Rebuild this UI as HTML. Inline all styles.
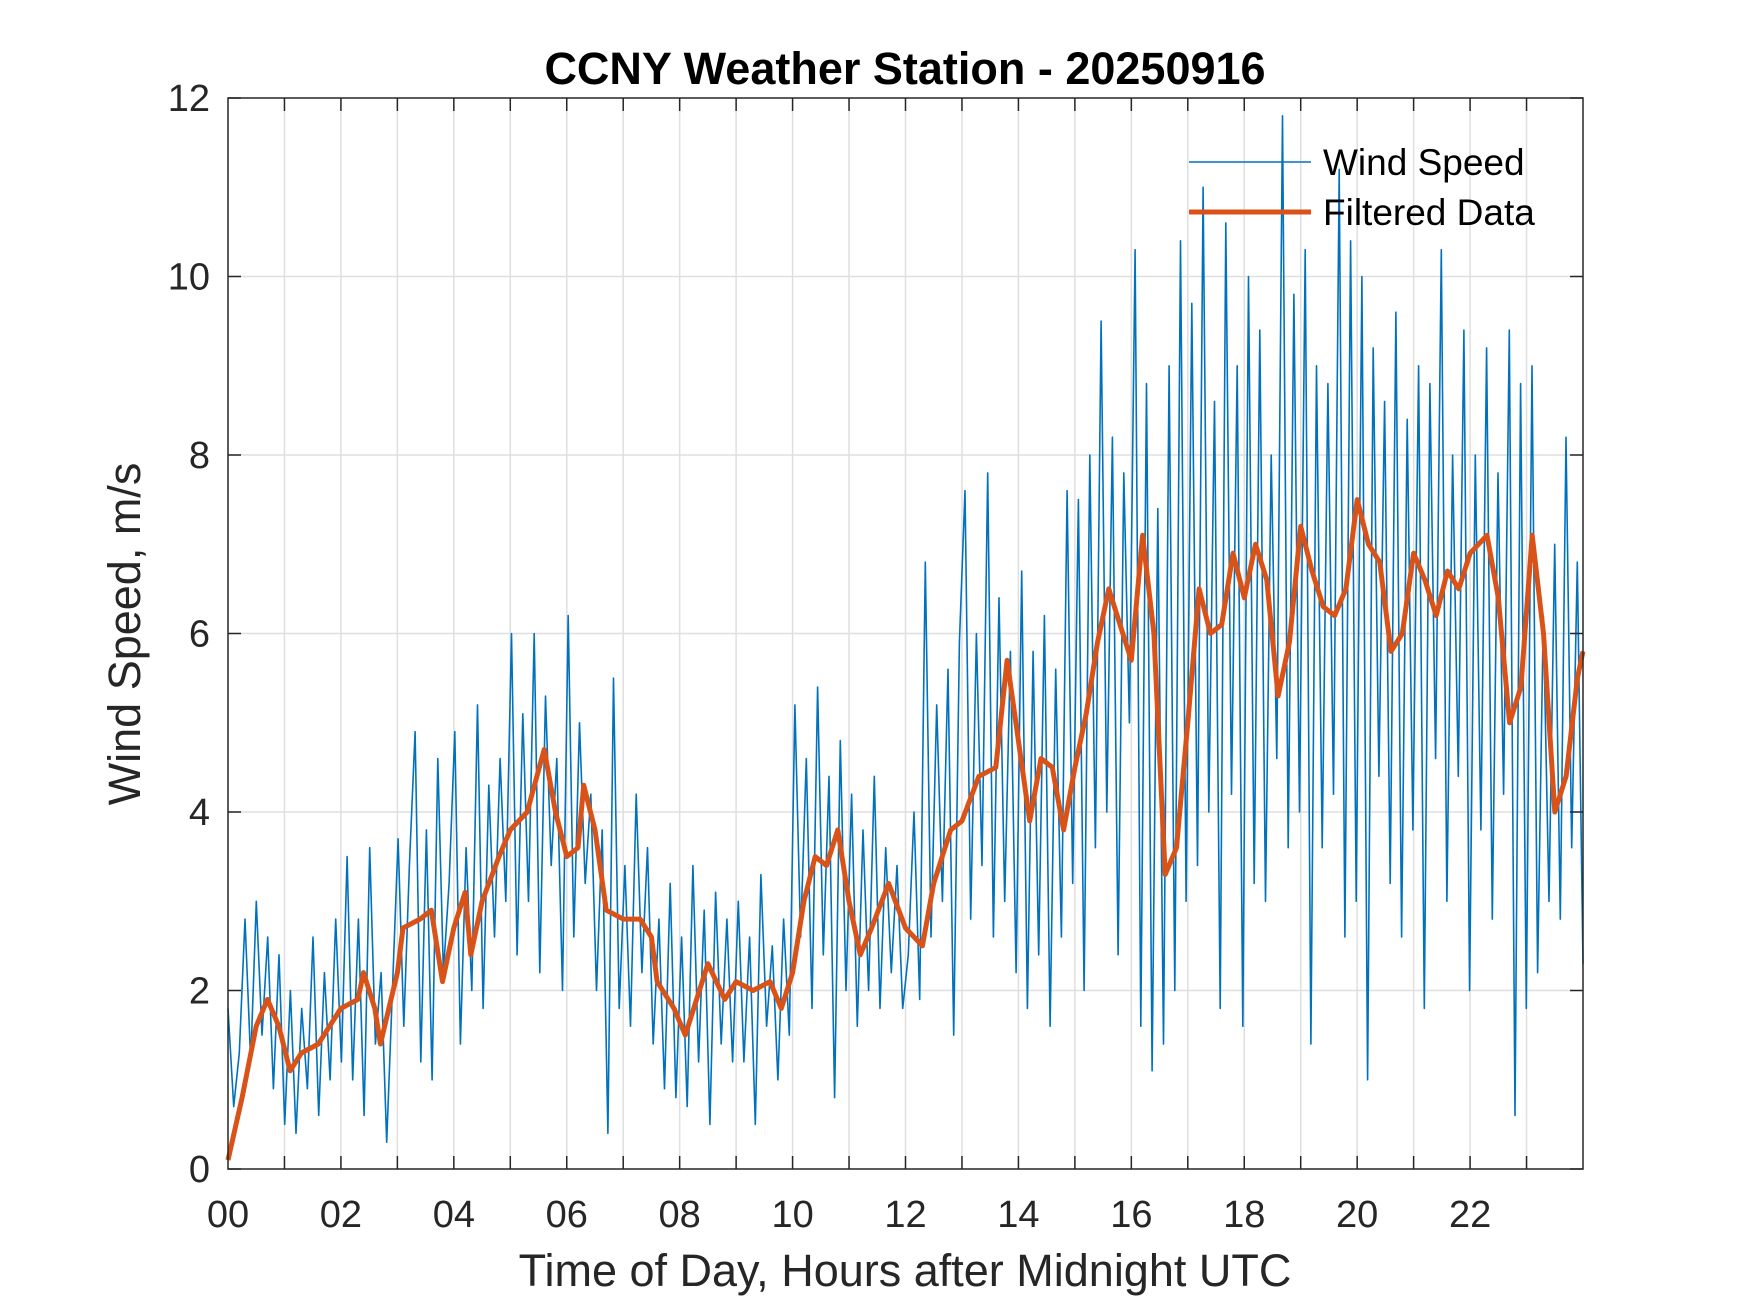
<!DOCTYPE html>
<html><head><meta charset="utf-8"><style>
html,body{margin:0;padding:0;background:#fff;}
svg{display:block;font-family:"Liberation Sans",Arial,sans-serif;}
</style></head><body>
<svg id="chart" width="1750" height="1313" viewBox="0 0 1750 1313" xmlns="http://www.w3.org/2000/svg">
<rect width="1750" height="1313" fill="#fff"/>
<g id="grid"></g>
<g id="series"></g>
<rect x="228" y="98" width="1355" height="1071" fill="none" stroke="#262626" stroke-width="1.5"/>
<g id="ticks"></g>
<text x="905" y="84" text-anchor="middle" font-size="45" font-weight="bold" fill="#000">CCNY Weather Station - 20250916</text>
<text x="905" y="1286" text-anchor="middle" font-size="45" fill="#262626">Time of Day, Hours after Midnight UTC</text>
<text transform="translate(140,634) rotate(-90)" text-anchor="middle" font-size="45" fill="#262626">Wind Speed, m/s</text>
<g>
<line x1="1189" y1="162" x2="1311" y2="162" stroke="#0072BD" stroke-width="1.5"/>
<text x="1323" y="175" font-size="37" fill="#000">Wind Speed</text>
<line x1="1189" y1="212" x2="1311" y2="212" stroke="#D95319" stroke-width="5"/>
<text x="1323" y="225" font-size="37" fill="#000">Filtered Data</text>
</g>
</svg>
<script>
const rawValues = [
1.8,0.7,1.3,2.8,1.2,3.0,1.5,2.6,0.9,2.4,
0.5,2.0,0.4,1.8,0.9,2.6,0.6,2.2,1.0,2.8,
1.2,3.5,1.0,2.8,0.6,3.6,1.4,2.2,0.3,2.0,
3.7,1.6,3.4,4.9,1.2,3.8,1.0,4.6,2.2,3.2,
4.9,1.4,3.6,2.0,5.2,1.8,4.3,2.6,4.6,3.0,
6.0,2.4,5.1,3.0,6.0,2.2,5.3,3.4,4.6,2.0,
6.2,2.6,5.0,3.2,4.2,2.0,3.8,0.4,5.5,1.8,
3.4,1.6,4.2,2.2,3.6,1.4,2.8,0.9,3.2,0.8,
2.6,0.7,3.4,1.2,2.9,0.5,3.1,1.4,2.8,1.2,
3.0,1.2,2.6,0.5,3.3,1.6,2.5,1.0,2.8,1.5,
5.2,2.6,4.6,1.8,5.4,2.4,4.4,0.8,4.8,2.0,
4.2,1.6,3.8,2.0,4.4,1.8,3.6,2.2,3.4,1.8,
2.4,4.0,1.9,6.8,2.6,5.2,3.0,5.6,1.5,5.9,
7.6,2.8,6.0,3.4,7.8,2.6,6.4,3.0,5.8,2.2,
6.7,1.8,5.8,2.4,6.2,1.6,5.6,2.6,7.6,3.2,
7.5,2.0,8.0,3.6,9.5,4.0,8.2,2.4,7.8,5.0,
10.3,1.6,8.8,1.1,7.4,1.4,9.0,2.0,10.4,3.0,
9.7,3.4,11.0,4.0,8.6,1.8,10.6,4.2,9.0,1.6,
10.0,3.2,9.4,3.0,8.0,4.6,11.8,3.6,9.8,4.0,
10.3,1.4,9.0,3.6,8.8,4.2,11.2,2.6,10.4,3.0,
10.0,1.0,9.2,4.4,8.6,3.2,9.6,2.6,8.4,3.8,
9.0,1.8,8.8,4.6,10.3,3.0,8.0,4.4,9.4,2.0,
8.0,3.8,9.2,2.8,7.8,4.2,9.4,0.6,8.8,1.8,
9.0,2.2,6.2,3.0,7.0,2.8,8.2,3.6,6.8,2.3
];
const filtHours = [0,0.25,0.5,0.7,0.9,1.1,1.3,1.6,2.0,2.3,2.4,2.6,2.7,3.0,3.1,3.4,3.6,3.8,4.0,4.2,4.3,4.5,4.8,5.0,5.3,5.6,5.8,6.0,6.2,6.3,6.5,6.7,7.0,7.3,7.5,7.6,7.9,8.1,8.3,8.5,8.8,9.0,9.3,9.6,9.8,10.0,10.2,10.4,10.6,10.8,11.0,11.2,11.4,11.7,12.0,12.3,12.5,12.8,13.0,13.3,13.6,13.8,14.0,14.2,14.4,14.6,14.8,15.0,15.2,15.4,15.6,15.8,16.0,16.2,16.4,16.6,16.8,17.0,17.2,17.4,17.6,17.8,18.0,18.2,18.4,18.6,18.8,19.0,19.2,19.4,19.6,19.8,20.0,20.2,20.4,20.6,20.8,21.0,21.2,21.4,21.6,21.8,22.0,22.3,22.5,22.7,22.9,23.1,23.3,23.5,23.7,23.9,24.0];
const filtValues = [0.1,0.8,1.6,1.9,1.6,1.1,1.3,1.4,1.8,1.9,2.2,1.8,1.4,2.2,2.7,2.8,2.9,2.1,2.7,3.1,2.4,3.0,3.5,3.8,4.0,4.7,4.0,3.5,3.6,4.3,3.8,2.9,2.8,2.8,2.6,2.1,1.8,1.5,1.9,2.3,1.9,2.1,2.0,2.1,1.8,2.2,3.0,3.5,3.4,3.8,3.0,2.4,2.7,3.2,2.7,2.5,3.2,3.8,3.9,4.4,4.5,5.7,4.8,3.9,4.6,4.5,3.8,4.5,5.1,5.9,6.5,6.1,5.7,7.1,6.0,3.3,3.6,5.0,6.5,6.0,6.1,6.9,6.4,7.0,6.6,5.3,5.9,7.2,6.7,6.3,6.2,6.5,7.5,7.0,6.8,5.8,6.0,6.9,6.6,6.2,6.7,6.5,6.9,7.1,6.4,5.0,5.4,7.1,6.0,4.0,4.4,5.5,5.8];
const xTickLabels = ["00","02","04","06","08","10","12","14","16","18","20","22"];
const yTickLabels = ["0","2","4","6","8","10","12"];

const L=228,R=1583,T=98,B=1169;
const xs = h => L + (R-L)*h/24;
const ys = v => B - (B-T)*v/12;
const NS="http://www.w3.org/2000/svg";
function mk(tag, attrs, parent){const e=document.createElementNS(NS,tag);for(const k in attrs)e.setAttribute(k,attrs[k]);parent.appendChild(e);return e;}
const grid=document.getElementById('grid'), series=document.getElementById('series'), ticks=document.getElementById('ticks');
for(let h=1;h<24;h++){
  const g=mk('line',{x1:xs(h),x2:xs(h),y1:T,y2:B,stroke:'#dfdfdf','stroke-width':1.5},grid);
  
  
  const t1=mk('line',{x1:xs(h),x2:xs(h),y1:B,y2:B-13,stroke:'#262626','stroke-width':1.5},ticks);
  
  
  const t2=mk('line',{x1:xs(h),x2:xs(h),y1:T,y2:T+13,stroke:'#262626','stroke-width':1.5},ticks);
  
  
}
xTickLabels.forEach((lab,i)=>{
  const t=mk('text',{x:xs(i*2),y:1227,'text-anchor':'middle','font-size':38,fill:'#262626'},ticks);
  t.textContent=lab;
  
  
});
yTickLabels.forEach((lab,i)=>{
  const v=i*2;
  if(v>0&&v<12){
    const g=mk('line',{x1:L,x2:R,y1:ys(v),y2:ys(v),stroke:'#dfdfdf','stroke-width':1.5},grid);
    
    
  }
  const a=mk('line',{x1:L,x2:L+13,y1:ys(v),y2:ys(v),stroke:'#262626','stroke-width':1.5},ticks);
  
  
  const b=mk('line',{x1:R,x2:R-13,y1:ys(v),y2:ys(v),stroke:'#262626','stroke-width':1.5},ticks);
  
  
  const t=mk('text',{x:210,y:ys(v)+13,'text-anchor':'end','font-size':38,fill:'#262626'},ticks);
  t.textContent=lab;
  
  
});
const n=rawValues.length;
const rawPts=rawValues.map((v,i)=>xs(24*i/(n-1)).toFixed(1)+','+ys(v).toFixed(1)).join(' ');
const raw=mk('polyline',{points:rawPts,fill:'none',stroke:'#0072BD','stroke-width':1.6,'stroke-linejoin':'round'},series);


const fPts=filtValues.map((v,i)=>xs(filtHours[i]).toFixed(1)+','+ys(v).toFixed(1)).join(' ');
const f=mk('polyline',{points:fPts,fill:'none',stroke:'#D95319','stroke-width':5,'stroke-linejoin':'round'},series);


</script>
</body></html>
